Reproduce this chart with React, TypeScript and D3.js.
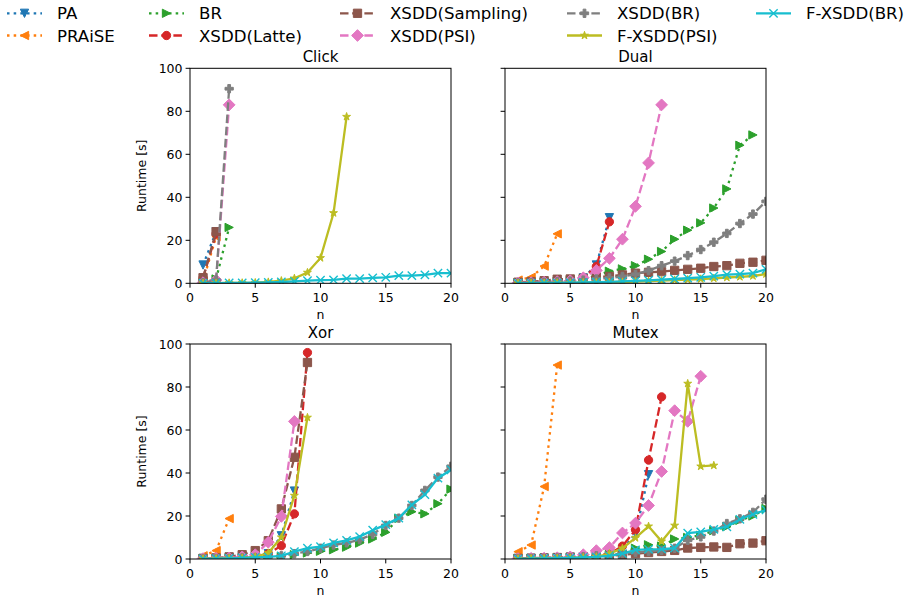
import React from 'react';
import * as d3 from 'd3';

// ---------- series meta ----------
const methods = ['PA', 'PRAiSE', 'BR', 'XSDD(Latte)', 'XSDD(Sampling)', 'XSDD(PSI)', 'XSDD(BR)', 'F-XSDD(PSI)', 'F-XSDD(BR)'];
const colors = ['#1f77b4', '#ff7f0e', '#2ca02c', '#d62728', '#8c564b', '#e377c2', '#7f7f7f', '#bcbd22', '#17becf'];
const markers = ['v', '<', '>', 'o', 's', 'D', 'P', '*', 'x'];
const lineStyles = ['dot', 'dot', 'dot', 'dash', 'dash', 'dash', 'dash', 'solid', 'solid'];

const panelTitles = ['Click', 'Dual', 'Xor', 'Mutex'];
const xTicks = [0, 5, 10, 15, 20];
const yTicks = [0, 20, 40, 60, 80, 100];

// ---------- data: runtime [s] for n = 1, 2, 3, ... ----------
// Click
const clickPA = [8.5, 24];
const clickPRAiSE = [1.0, 21.7];
const clickBR = [0.3, 2, 26];
const clickLatte = [2.5, 23];
const clickSampling = [2.6, 24];
const clickPSI = [0.3, 1.5, 83];
const clickXBR = [0.3, 1.5, 90.5];
const clickFPSI = [0.05, 0.1, 0.15, 0.2, 0.3, 0.6, 1.2, 2.3, 5, 11.8, 32.7, 77.5];
const clickFBR = [0.05, 0.1, 0.15, 0.2, 0.3, 0.4, 0.6, 0.9, 1.2, 1.5, 1.6, 2.2, 2.2, 2.5, 2.8, 3.6, 3.6, 3.9, 4.7, 4.7];

// Dual
const dualPA = [0.2, 0.3, 0.5, 0.8, 1.2, 2.5, 8.5, 30.5];
const dualPRAiSE = [1.5, 2.8, 8, 23];
const dualBR = [0.2, 0.3, 0.5, 0.8, 1.2, 2, 3.5, 5.6, 6.7, 8.2, 11.2, 14.8, 20.5, 24.7, 28.1, 35, 43.9, 64.2, 69];
const dualLatte = [0.2, 0.3, 0.5, 0.8, 1.2, 2.5, 7.8, 28.6];
const dualSampling = [0.5, 0.8, 1.2, 1.9, 2.0, 2.3, 3.0, 3.2, 3.9, 4.7, 5.1, 5.4, 6, 6.5, 7, 7.8, 8.2, 9.3, 9.8, 10.7];
const dualPSI = [0.2, 0.3, 0.5, 0.8, 1.2, 2.6, 6, 11.6, 20.5, 35.8, 56, 83];
const dualXBR = [0.2, 0.3, 0.5, 0.8, 1, 1.5, 2, 2.5, 3.2, 4.2, 5.9, 8.2, 10.3, 12.9, 15.7, 19.1, 23.2, 27.8, 32.2, 38.1];
const dualFPSI = [0.05, 0.1, 0.1, 0.2, 0.2, 0.3, 0.4, 0.5, 0.6, 0.8, 1, 1.2, 1.5, 1.7, 2, 2.3, 2.7, 3, 3.4, 4.3];
const dualFBR = [0.05, 0.1, 0.15, 0.2, 0.3, 0.4, 0.5, 0.7, 0.9, 1.1, 1.4, 1.7, 2.0, 2.4, 2.8, 3.3, 4.0, 4.3, 4.7, 6.5];

// Xor
const xorPA = [0.2, 0.3, 0.5, 0.8, 1.2, 2.5, 10.8, 31.6];
const xorPRAiSE = [1.5, 3.9, 18.8];
const xorBR = [0.1, 0.2, 0.3, 0.4, 0.5, 0.8, 1.2, 2, 2.8, 3.6, 4.3, 5.5, 7.4, 9.3, 12.4, 19, 22, 21, 25.7, 32.5];
const xorLatte = [0.2, 0.3, 0.5, 0.8, 1.2, 2.5, 6.2, 21, 96];
const xorSampling = [0.3, 0.5, 1, 2, 3.9, 8.5, 23.3, 47.3, 91.4];
const xorPSI = [0.2, 0.3, 0.5, 1, 2, 7.8, 19.8, 64];
const xorXBR = [0.1, 0.2, 0.3, 0.5, 0.7, 1, 1.5, 2.5, 3.5, 5, 6.5, 7.5, 9, 11.5, 15.6, 19, 24.9, 31.9, 38.1, 43.1];
const xorFPSI = [0.1, 0.2, 0.3, 0.5, 1, 2.8, 10.1, 29.5, 65.8];
const xorFBR = [0.1, 0.2, 0.3, 0.5, 0.8, 1, 1.5, 3.4, 5, 5.8, 7.5, 8.7, 10.4, 13.4, 16, 19, 25.2, 29.9, 37.6, 41.5];

// Mutex
const mutexPA = [0.2, 0.3, 0.4, 0.6, 0.8, 1, 1.5, 2.5, 4.5, 11.7, 39.2];
const mutexPRAiSE = [3.4, 6.5, 33.7, 90.2];
const mutexBR = [0.2, 0.3, 0.4, 0.5, 0.6, 0.8, 1, 2, 3, 5, 6.6, 6, 9.3, 10, 11, 13.2, 15, 18, 20, 23.5];
const mutexLatte = [0.2, 0.3, 0.4, 0.6, 0.8, 1, 1.5, 2.5, 6, 13.6, 46, 75.4];
const mutexSampling = [0.3, 0.4, 0.5, 0.7, 0.9, 1, 1.2, 1.5, 2, 2.5, 3, 3.5, 4, 5.1, 5.4, 5.6, 5.4, 7.1, 7.4, 8.5];
const mutexPSI = [0.2, 0.3, 0.4, 0.6, 1, 2, 3.9, 5.3, 12.1, 16.7, 24.9, 40.7, 69, 64, 85];
const mutexXBR = [0.2, 0.3, 0.4, 0.5, 0.7, 1, 1.5, 2, 2.5, 3, 3.5, 4, 5, 8.7, 10.3, 13, 16.5, 18.7, 21.7, 27.8];
const mutexFPSI = [0.1, 0.2, 0.3, 0.4, 0.5, 0.7, 1, 2.5, 5, 9.8, 15.2, 8.2, 15.6, 81.6, 43.1, 43.5];
const mutexFBR = [0.1, 0.2, 0.3, 0.4, 0.5, 0.7, 1, 1.5, 2.5, 4.2, 4.5, 4.6, 5.1, 12, 12.6, 13.8, 15, 18.4, 20.8, 22.8];

const panelData = [
  [clickPA, clickPRAiSE, clickBR, clickLatte, clickSampling, clickPSI, clickXBR, clickFPSI, clickFBR],
  [dualPA, dualPRAiSE, dualBR, dualLatte, dualSampling, dualPSI, dualXBR, dualFPSI, dualFBR],
  [xorPA, xorPRAiSE, xorBR, xorLatte, xorSampling, xorPSI, xorXBR, xorFPSI, xorFBR],
  [mutexPA, mutexPRAiSE, mutexBR, mutexLatte, mutexSampling, mutexPSI, mutexXBR, mutexFPSI, mutexFBR],
];

// ---------- layout ----------
const W = 916;
const H = 603;
const panelLeft = [190, 505];
const panelTop = [68.3, 344];
const PW = 261;
const PH = 215;
const LW = 2.3;
const MS = 8.3;
const FONT = "'DejaVu Sans', sans-serif";

function dashFor(style: string): string | undefined {
  if (style === 'dot') return `${LW * 1.1},${LW * 1.8}`;
  if (style === 'dash') return `${LW * 3.7},${LW * 1.6}`;
  return undefined;
}

function markerPath(m: string, s: number): string {
  const h = s / 2;
  switch (m) {
    case 'v':
      return `M0,${h}L${-h},${-h}L${h},${-h}Z`;
    case '<':
      return `M${-h},0L${h},${-h}L${h},${h}Z`;
    case '>':
      return `M${h},0L${-h},${-h}L${-h},${h}Z`;
    case 's':
      return `M${-h},${-h}H${h}V${h}H${-h}Z`;
    case 'D': {
      const d = (s * Math.SQRT2) / 2;
      return `M0,${-d}L${d},0L0,${d}L${-d},0Z`;
    }
    case 'P': {
      const t = s / 6;
      return `M${-t},${-h}H${t}V${-t}H${h}V${t}H${t}V${h}H${-t}V${t}H${-h}V${-t}H${-t}Z`;
    }
    case '*': {
      const pts: string[] = [];
      for (let i = 0; i < 10; i++) {
        const r = i % 2 === 0 ? h : h * 0.381966;
        const a = -Math.PI / 2 + (i * Math.PI) / 5;
        pts.push(`${r * Math.cos(a)},${r * Math.sin(a)}`);
      }
      return 'M' + pts.join('L') + 'Z';
    }
    case 'x':
      return `M${-h},${-h}L${h},${h}M${-h},${h}L${h},${-h}`;
    case 'o':
    default:
      return d3.symbol(d3.symbolCircle, Math.PI * h * h)() || '';
  }
}

function Marker({ m, color, x, y }: { m: string; color: string; x: number; y: number }) {
  const d = markerPath(m, MS);
  if (m === 'x') {
    return <path d={d} transform={`translate(${x},${y})`} fill="none" stroke={color} strokeWidth={1.4} />;
  }
  return <path d={d} transform={`translate(${x},${y})`} fill={color} stroke={color} strokeWidth={1} strokeLinejoin="miter" />;
}

function Panel({ idx }: { idx: number }) {
  const col = idx % 2;
  const row = Math.floor(idx / 2);
  const x0 = panelLeft[col];
  const y0 = panelTop[row];
  const xs = d3.scaleLinear().domain([0, 20]).range([x0, x0 + PW]);
  const ys = d3.scaleLinear().domain([0, 100]).range([y0 + PH, y0]);
  const line = d3
    .line<[number, number]>()
    .x((d) => xs(d[0]))
    .y((d) => ys(d[1]));
  const clipId = `clip${idx}`;
  const series = panelData[idx];
  return (
    <g>
      <defs>
        <clipPath id={clipId}>
          <rect x={x0} y={y0} width={PW} height={PH} />
        </clipPath>
      </defs>
      <g clipPath={`url(#${clipId})`}>
        {series.map((vals, si) => {
          const pts: [number, number][] = vals.map((v, i) => [i + 1, v]);
          return (
            <g key={si}>
              <path
                d={line(pts) || ''}
                fill="none"
                stroke={colors[si]}
                strokeWidth={LW}
                strokeDasharray={dashFor(lineStyles[si])}
              />
              {pts.map((p, pi) => (
                <Marker key={pi} m={markers[si]} color={colors[si]} x={xs(p[0])} y={ys(p[1])} />
              ))}
            </g>
          );
        })}
      </g>
      <rect x={x0} y={y0} width={PW} height={PH} fill="none" stroke="#000" strokeWidth={1} />
      {xTicks.map((t) => (
        <g key={'x' + t}>
          <line x1={xs(t)} x2={xs(t)} y1={y0 + PH} y2={y0 + PH + 4.4} stroke="#000" strokeWidth={1} />
          <text x={xs(t)} y={y0 + PH + 19} textAnchor="middle" fontSize={12.5} fontFamily={FONT} fill="#000">
            {t}
          </text>
        </g>
      ))}
      {yTicks.map((t) => (
        <g key={'y' + t}>
          <line x1={x0 - 4.4} x2={x0} y1={ys(t)} y2={ys(t)} stroke="#000" strokeWidth={1} />
          {col === 0 && (
            <text x={x0 - 7.5} y={ys(t) + 4.5} textAnchor="end" fontSize={12.5} fontFamily={FONT} fill="#000">
              {t}
            </text>
          )}
        </g>
      ))}
      <text x={x0 + PW / 2} y={y0 + PH + 36} textAnchor="middle" fontSize={12.5} fontFamily={FONT} fill="#000">
        n
      </text>
      <text x={x0 + PW / 2} y={y0 - 6.5} textAnchor="middle" fontSize={15} fontFamily={FONT} fill="#000">
        {panelTitles[idx]}
      </text>
      {col === 0 && (
        <text
          transform={`translate(${x0 - 44},${y0 + PH / 2}) rotate(-90)`}
          textAnchor="middle"
          fontSize={12.5}
          fontFamily={FONT}
          fill="#000"
        >
          Runtime [s]
        </text>
      )}
    </g>
  );
}

const legendTextX = [57, 199, 390, 617, 806];
const legendRowY = [13.3, 35.5];

function Legend() {
  return (
    <g>
      {methods.map((name, i) => {
        const c = Math.floor(i / 2);
        const r = i % 2;
        const tx = legendTextX[c];
        const y = legendRowY[r];
        const lx1 = tx - 50;
        const lx2 = tx - 15;
        return (
          <g key={name}>
            <line x1={lx1} x2={lx2} y1={y} y2={y} stroke={colors[i]} strokeWidth={LW} strokeDasharray={dashFor(lineStyles[i])} />
            <Marker m={markers[i]} color={colors[i]} x={(lx1 + lx2) / 2} y={y} />
            <text x={tx} y={y + 6} fontSize={16.6} fontFamily={FONT} fill="#000">
              {name}
            </text>
          </g>
        );
      })}
    </g>
  );
}

export default function App() {
  return (
    <svg width={W} height={H} style={{ position: 'absolute', left: 0, top: 0, background: '#fff' }}>
      <rect x={0} y={0} width={W} height={H} fill="#fff" />
      <Legend />
      {[0, 1, 2, 3].map((i) => (
        <Panel key={i} idx={i} />
      ))}
    </svg>
  );
}
